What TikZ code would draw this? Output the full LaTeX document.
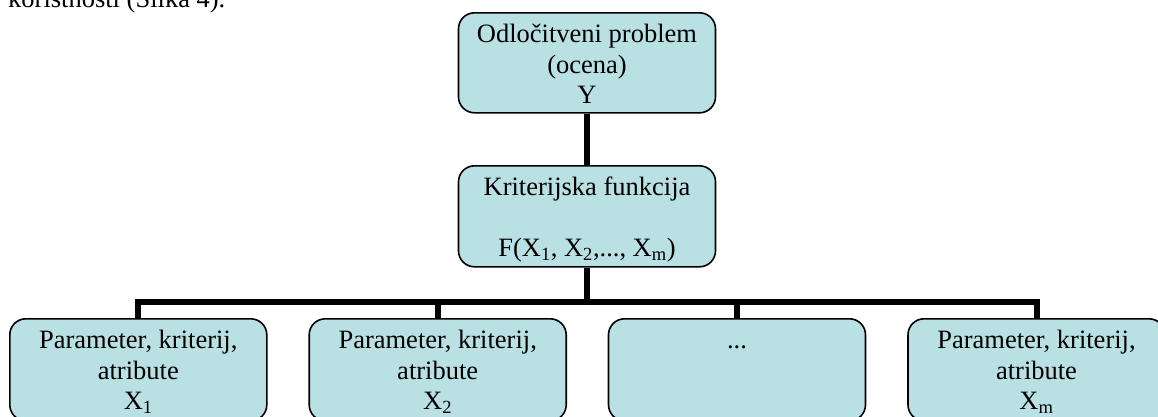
\documentclass[tikz,border=0pt]{standalone}
\usepackage{fontspec}
\setmainfont{Liberation Serif}
\definecolor{boxfill}{RGB}{185,224,227}
\newcommand\boxlines[2]{\vbox to #1{\hsize=257pt\parindent=0pt\centering\rule{0pt}{30pt}#2\par\vfil}}
\begin{document}
\begin{tikzpicture}[x=1pt,y=-1pt,
  pbox/.style={draw=black, line width=1.6pt, fill=boxfill, rounded corners=16pt, inner sep=0pt, anchor=north, font=\fontsize{26.5}{30.5}\selectfont},
  conn/.style={line width=6pt, line join=miter, line cap=butt}]
\useasboundingbox (0,0) rectangle (1158,416);
\node[anchor=base west, inner sep=0pt, font=\fontsize{26.5}{30.5}\selectfont] (intro) at (8,7) {koristnosti (Slika 4).};
\node[pbox] (odl) at (587,12) {\boxlines{100pt}{Odločitveni problem\\(ocena)\\Y}};
\node[pbox] (krit) at (587,165) {\boxlines{101pt}{Kriterijska funkcija\\\mbox{}\\F(X\textsubscript{1}, X\textsubscript{2},..., X\textsubscript{m})}};
\node[pbox] (b1) at (138.3,318) {\boxlines{102pt}{Parameter, kriterij,\\atribute\\X\textsubscript{1}}};
\node[pbox] (b2) at (437.7,318) {\boxlines{102pt}{Parameter, kriterij,\\atribute\\X\textsubscript{2}}};
\node[pbox] (b3) at (737,318) {\boxlines{102pt}{...}};
\node[pbox] (b4) at (1036.5,318) {\boxlines{102pt}{Parameter, kriterij,\\atribute\\X\textsubscript{m}}};
\coordinate (bar) at (587,301.7);
\draw[conn] (odl.south) -- (krit.north);
\draw[conn] (krit.south) -- (bar);
\draw[conn] (b1.north) -- (b1.north |- bar) -- (b4.north |- bar) -- (b4.north);
\draw[conn] (b2.north) -- (b2.north |- bar);
\draw[conn] (b3.north) -- (b3.north |- bar);
\end{tikzpicture}
\end{document}
